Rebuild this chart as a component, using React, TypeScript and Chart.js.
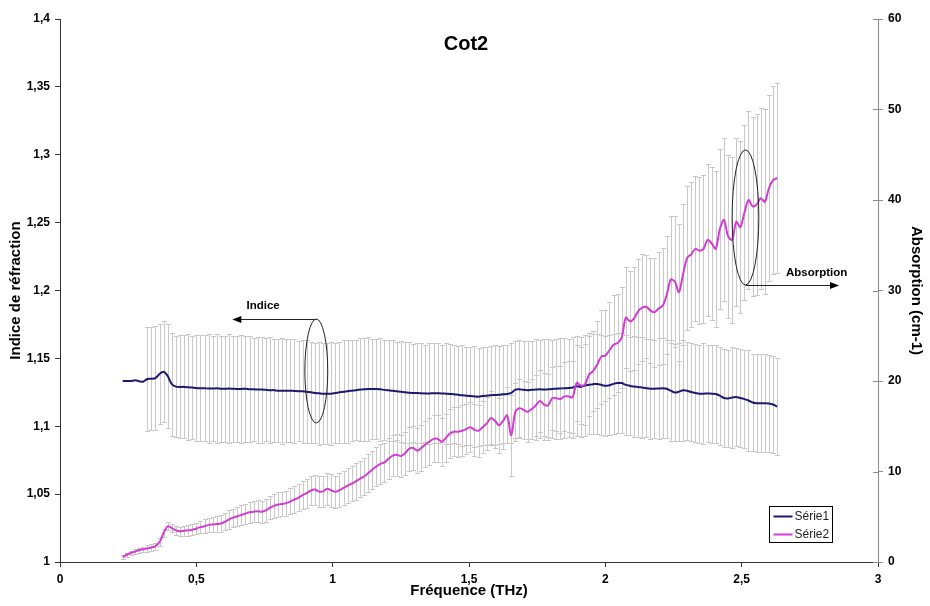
import React, { useEffect, useRef } from 'react';
import { Chart, registerables } from 'chart.js';

Chart.register(...registerables);

// ---------- data ----------
const FREQ_START = 0.23; // THz, first sample
const FREQ_STEP = 0.015; // THz, sampling step

const chartTitle = 'Cot2';
const xAxisTitle = 'Fréquence (THz)';
const yLeftTitle = 'Indice de réfraction';
const yRightTitle = 'Absorption (cm-1)';
const seriesNames = ['Série1', 'Série2'];

const xRange = [0, 3, 0.5];
const yLeftRange = [1, 1.4, 0.05];
const yRightRange = [0, 60, 10];

// Série1 : refractive index (left axis)
const indice = [
  1.1334, 1.1333, 1.1333, 1.1338, 1.1332, 1.1328, 1.1348, 1.1350, 1.1355, 1.1385,
  1.1402, 1.1370, 1.1310, 1.1292, 1.1290, 1.1290, 1.1288, 1.1285, 1.1282, 1.1280,
  1.1280, 1.1278, 1.1278, 1.1280, 1.1276, 1.1276, 1.1278, 1.1276, 1.1275, 1.1275,
  1.1276, 1.1272, 1.1272, 1.1270, 1.1270, 1.1268, 1.1266, 1.1266, 1.1262, 1.1262,
  1.1262, 1.1262, 1.1260, 1.1258, 1.1258, 1.1255, 1.1250, 1.1245, 1.1243, 1.1240,
  1.1240, 1.1240, 1.1245, 1.1250, 1.1255, 1.1258, 1.1262, 1.1266, 1.1270, 1.1272,
  1.1275, 1.1275, 1.1274, 1.1272, 1.1268, 1.1265, 1.1262, 1.1258, 1.1255, 1.1250,
  1.1247, 1.1245, 1.1245, 1.1243, 1.1242, 1.1242, 1.1244, 1.1243, 1.1242, 1.1240,
  1.1238, 1.1236, 1.1232, 1.1228, 1.1225, 1.1222, 1.1220, 1.1218, 1.1222, 1.1225,
  1.1228, 1.1230, 1.1232, 1.1235, 1.1238, 1.1245, 1.1270, 1.1272, 1.1268, 1.1266,
  1.1268, 1.1270, 1.1272, 1.1270, 1.1272, 1.1275, 1.1276, 1.1278, 1.1280, 1.1282,
  1.1285, 1.1295, 1.1290, 1.1300, 1.1305, 1.1310, 1.1312, 1.1305, 1.1298, 1.1302,
  1.1312, 1.1318, 1.1318, 1.1305, 1.1298, 1.1292, 1.1290, 1.1285, 1.1280, 1.1276,
  1.1276, 1.1278, 1.1280, 1.1276, 1.1262, 1.1248, 1.1255, 1.1265, 1.1262, 1.1252,
  1.1245, 1.1240, 1.1240, 1.1242, 1.1240, 1.1238, 1.1225, 1.1208, 1.1205, 1.1212,
  1.1215, 1.1208, 1.1200, 1.1190, 1.1175, 1.1170, 1.1170, 1.1170, 1.1168, 1.1160,
  1.1145,
];

// Série2 : absorption (right axis)
const absorption = [
  0.55, 0.8, 1.0, 1.15, 1.3, 1.4, 1.5, 1.6, 1.75, 2.2,
  3.2, 3.95, 3.75, 3.5, 3.4, 3.45, 3.5, 3.55, 3.7, 3.85,
  3.95, 4.1, 4.15, 4.2, 4.25, 4.45, 4.7, 4.9, 5.05, 5.2,
  5.35, 5.5, 5.55, 5.6, 5.55, 5.7, 6.0, 6.2, 6.35, 6.4,
  6.5, 6.7, 6.9, 7.1, 7.4, 7.6, 7.9, 8.0, 7.8, 7.8,
  8.1, 7.9, 7.75, 7.95, 8.2, 8.45, 8.65, 8.9, 9.2, 9.45,
  9.8, 10.2, 10.55, 10.85, 11.0, 11.4, 11.75, 11.85, 11.7, 12.0,
  12.5, 12.6, 12.3, 12.6, 13.0, 13.3, 13.6, 13.6, 13.3, 13.7,
  14.2, 14.4, 14.4, 14.5, 14.7, 14.9, 14.6, 14.5, 14.9, 15.3,
  15.9, 15.6, 15.1, 15.6, 16.2, 14.0, 16.6, 17.0, 16.8, 16.6,
  16.9, 17.3, 17.8, 17.4, 17.3, 18.1, 18.1, 18.0, 18.3, 18.3,
  18.2, 19.8, 19.5, 19.6, 20.7, 21.1, 21.8, 22.7, 22.8, 23.4,
  24.0, 24.2, 24.8, 27.0, 26.6, 26.9, 27.7, 28.1, 28.2, 27.8,
  27.6, 28.0, 28.3, 29.5, 31.2, 31.0, 29.8, 31.8, 33.6, 34.0,
  34.6, 34.4, 34.6, 35.6, 35.2, 34.6, 36.8, 37.8, 36.0, 35.6,
  37.6, 37.0, 38.6, 40.0, 39.3, 39.5, 40.2, 39.8, 41.3, 42.2,
  42.4,
];

// error bar half-lengths (null = no bar)
const indiceErr = [
  null, null, null, null, null, null, 0.038, 0.038, 0.038, 0.037,
  0.037, 0.038, 0.038, 0.037, 0.038, 0.038, 0.039, 0.038, 0.039, 0.039,
  0.039, 0.040, 0.039, 0.040, 0.039, 0.039, 0.040, 0.039, 0.039, 0.040,
  0.039, 0.039, 0.038, 0.039, 0.039, 0.038, 0.039, 0.038, 0.038, 0.039,
  0.038, 0.038, 0.038, 0.037, 0.038, 0.038, 0.037, 0.037, 0.038, 0.037,
  0.037, 0.038, 0.037, 0.037, 0.038, 0.038, 0.037, 0.037, 0.038, 0.038,
  0.038, 0.037, 0.037, 0.038, 0.037, 0.037, 0.037, 0.036, 0.037, 0.037,
  0.037, 0.036, 0.037, 0.037, 0.036, 0.037, 0.037, 0.037, 0.036, 0.037,
  0.037, 0.036, 0.036, 0.037, 0.036, 0.036, 0.037, 0.036, 0.036, 0.036,
  0.036, 0.037, 0.036, 0.036, 0.036, 0.037, 0.036, 0.036, 0.036, 0.036,
  0.036, 0.037, 0.036, 0.037, 0.037, 0.036, 0.037, 0.037, 0.037, 0.036,
  0.037, 0.037, 0.037, 0.037, 0.036, 0.037, 0.037, 0.037, 0.037, 0.037,
  0.037, 0.037, 0.037, 0.037, 0.036, 0.037, 0.037, 0.037, 0.036, 0.037,
  0.036, 0.037, 0.037, 0.036, 0.037, 0.036, 0.036, 0.037, 0.036, 0.036,
  0.036, 0.036, 0.037, 0.036, 0.036, 0.036, 0.036, 0.036, 0.036, 0.037,
  0.036, 0.036, 0.036, 0.037, 0.036, 0.036, 0.036, 0.036, 0.036, 0.036,
  0.036,
];

const absorptionErr = [
  0.2, 0.2, 0.25, 0.3, 0.3, 0.3, 0.35, 0.4, 0.4, 0.4,
  0.4, 0.45, 0.45, 0.5, 0.5, 0.55, 0.6, 0.6, 0.65, 0.7,
  0.75, 0.8, 0.8, 0.85, 0.9, 0.95, 1.0, 1.0, 1.05, 1.1,
  1.1, 1.15, 1.15, 1.2, 1.2, 1.25, 1.3, 1.3, 1.35, 1.35,
  1.4, 1.45, 1.5, 1.5, 1.55, 1.6, 1.6, 1.65, 1.7, 1.7,
  1.75, 1.8, 1.8, 1.85, 1.9, 1.9, 1.95, 2.0, 2.0, 2.05,
  2.1, 2.1, 2.15, 2.2, 2.2, 2.25, 2.3, 2.3, 2.35, 2.4,
  2.4, 2.45, 2.5, 2.5, 2.55, 2.6, 2.6, 2.6, 2.65, 2.7,
  2.7, 2.7, 2.75, 2.8, 2.8, 2.8, 2.85, 2.9, 2.9, 2.95,
  3.0, 3.0, 3.05, 3.1, 3.1, 4.5, 3.2, 3.2, 3.25, 3.3,
  3.3, 3.35, 3.4, 3.45, 3.5, 3.5, 3.6, 3.7, 3.8, 3.9,
  4.0, 4.2, 4.3, 4.5, 4.6, 4.4, 4.8, 5.2, 5.0, 5.3,
  5.5, 5.4, 5.6, 5.6, 5.5, 5.7, 5.8, 5.9, 5.7, 5.8,
  6.0, 6.2, 6.4, 6.5, 7.0, 7.2, 7.6, 7.8, 8.0, 8.0,
  8.0, 8.1, 8.2, 8.4, 8.5, 8.6, 8.8, 9.0, 9.0, 9.2,
  9.3, 9.5, 9.7, 9.8, 9.9, 10.0, 10.0, 10.2, 10.3, 10.4,
  10.5,
];

const frequencies = indice.map((_, i) => +(FREQ_START + i * FREQ_STEP).toFixed(4));

// ---------- styles ----------
const FONT = "'Liberation Sans', Arial, Helvetica, sans-serif";
const NAVY = '#1a1a70';
const MAGENTA = '#d23cd2';
const ERR_COLOR = '#c8c8c8';
const AXIS_DARK = '#333333';
const AXIS_GREY = '#8a8a8a';

const fmt = (v: number) => String(Math.round(v * 1000) / 1000).replace('.', ',');

// annotation callouts, in data units
const indiceCallout = { cx: 0.94, cy: 1.1407, rx: 0.042, ry: 0.0383, arrowTo: 0.632, text: 'Indice', tx: 0.745, ty: 1.1886 };
const absCallout = { cx: 2.514, cy: 38.07, rx: 0.049, ry: 7.46, arrowTo: 2.857, text: 'Absorption', tx: 2.775, ty: 31.9 };

function drawErrorBars(ctx: CanvasRenderingContext2D, xs: any, ys: any, vals: number[], errs: (number | null)[]) {
  ctx.beginPath();
  for (let i = 0; i < vals.length; i++) {
    const e = errs[i];
    if (e == null) continue;
    const px = Math.round(xs.getPixelForValue(frequencies[i])) + 0.5;
    const top = Math.round(ys.getPixelForValue(vals[i] + e)) + 0.5;
    const bot = Math.round(ys.getPixelForValue(vals[i] - e)) + 0.5;
    ctx.moveTo(px, top);
    ctx.lineTo(px, bot);
    ctx.moveTo(px - 2.5, top);
    ctx.lineTo(px + 2.5, top);
    ctx.moveTo(px - 2.5, bot);
    ctx.lineTo(px + 2.5, bot);
  }
  ctx.stroke();
}

function arrowHead(ctx: CanvasRenderingContext2D, x: number, y: number, dir: number) {
  ctx.beginPath();
  ctx.moveTo(x, y);
  ctx.lineTo(x - dir * 9, y - 3.5);
  ctx.lineTo(x - dir * 9, y + 3.5);
  ctx.closePath();
  ctx.fill();
}

function drawCallout(ctx: CanvasRenderingContext2D, xs: any, ys: any, c: any, arrowFromTop: boolean) {
  const cx = xs.getPixelForValue(c.cx);
  const cy = ys.getPixelForValue(c.cy);
  const rx = Math.abs(xs.getPixelForValue(c.cx + c.rx) - cx);
  const ry = Math.abs(ys.getPixelForValue(c.cy + c.ry) - cy);
  ctx.strokeStyle = '#222';
  ctx.fillStyle = '#000';
  ctx.lineWidth = 1;
  ctx.beginPath();
  ctx.ellipse(cx, cy, rx, ry, 0, 0, Math.PI * 2);
  ctx.stroke();
  const ay = Math.round(arrowFromTop ? cy - ry : cy + ry) + 0.5;
  const ax = xs.getPixelForValue(c.arrowTo);
  const dir = ax < cx ? -1 : 1;
  ctx.beginPath();
  ctx.moveTo(cx, ay);
  ctx.lineTo(ax - dir * 8, ay);
  ctx.stroke();
  arrowHead(ctx, ax, ay, dir);
  ctx.font = `bold 11.5px ${FONT}`;
  ctx.textAlign = 'center';
  ctx.textBaseline = 'middle';
  ctx.fillText(c.text, xs.getPixelForValue(c.tx), ys.getPixelForValue(c.ty));
}

const overlayPlugin = {
  id: 'overlay',
  beforeDatasetsDraw(chart: any) {
    const { ctx, scales } = chart;
    ctx.save();
    ctx.strokeStyle = ERR_COLOR;
    ctx.lineWidth = 1;
    drawErrorBars(ctx, scales.x, scales.y, indice, indiceErr);
    drawErrorBars(ctx, scales.x, scales.y1, absorption, absorptionErr);
    ctx.restore();
  },
  afterDraw(chart: any) {
    const { ctx, chartArea: ca, scales } = chart;
    ctx.save();
    // inward half of the right-axis tick marks
    ctx.strokeStyle = AXIS_GREY;
    ctx.lineWidth = 1;
    ctx.beginPath();
    scales.y1.ticks.forEach((t: any) => {
      const py = Math.round(scales.y1.getPixelForValue(t.value)) + 0.5;
      ctx.moveTo(ca.right - 5, py);
      ctx.lineTo(ca.right, py);
    });
    ctx.stroke();

    // title inside the plot area
    ctx.fillStyle = '#000';
    ctx.font = `bold 20px ${FONT}`;
    ctx.textAlign = 'center';
    ctx.textBaseline = 'middle';
    ctx.fillText(chartTitle, (ca.left + ca.right) / 2 - 3, ca.top + 25);

    // callouts
    drawCallout(ctx, scales.x, scales.y, indiceCallout, true);
    drawCallout(ctx, scales.x, scales.y1, absCallout, false);

    // legend box
    const lx = Math.round(ca.right - 109) + 0.5;
    const ly = Math.round(ca.bottom - 56) + 0.5;
    const lw = 63;
    const lh = 36;
    ctx.fillStyle = '#fff';
    ctx.fillRect(lx, ly, lw, lh);
    ctx.strokeStyle = '#000';
    ctx.lineWidth = 1;
    ctx.strokeRect(lx, ly, lw, lh);
    const colors = [NAVY, MAGENTA];
    seriesNames.forEach((name, k) => {
      const yy = ly + 10 + k * 18;
      ctx.strokeStyle = colors[k];
      ctx.lineWidth = 2;
      ctx.beginPath();
      ctx.moveTo(lx + 4, yy);
      ctx.lineTo(lx + 23, yy);
      ctx.stroke();
      ctx.fillStyle = '#222';
      ctx.font = `12px ${FONT}`;
      ctx.textAlign = 'left';
      ctx.textBaseline = 'middle';
      ctx.fillText(name, lx + 25, yy);
    });
    ctx.restore();
  },
};

export default function App() {
  const ref = useRef<HTMLCanvasElement>(null);

  useEffect(() => {
    document.body.style.margin = '0';
    const canvas = ref.current;
    if (!canvas) return;
    const tickFont = { family: FONT, size: 12, weight: 'bold' as const };
    const titleFont = { family: FONT, size: 15, weight: 'bold' as const };

    const chart = new Chart(canvas, {
      type: 'line',
      data: {
        datasets: [
          {
            label: seriesNames[0],
            data: frequencies.map((x, i) => ({ x, y: indice[i] })),
            yAxisID: 'y',
            borderColor: NAVY,
            backgroundColor: NAVY,
            borderWidth: 2,
            pointRadius: 0,
            tension: 0.3,
            fill: false,
            order: 1,
          },
          {
            label: seriesNames[1],
            data: frequencies.map((x, i) => ({ x, y: absorption[i] })),
            yAxisID: 'y1',
            borderColor: MAGENTA,
            backgroundColor: MAGENTA,
            borderWidth: 2,
            pointRadius: 0,
            tension: 0.3,
            fill: false,
            order: 0,
          },
        ],
      },
      options: {
        animation: false,
        responsive: false,
        devicePixelRatio: 1,
        layout: { padding: { top: 19, left: 0, right: 0, bottom: 0 } },
        plugins: {
          legend: { display: false },
          tooltip: { enabled: false },
          title: { display: false },
        },
        scales: {
          x: {
            type: 'linear',
            min: xRange[0],
            max: xRange[1],
            afterFit: (s: any) => { s.height = 44; },
            ticks: {
              stepSize: xRange[2],
              color: '#000',
              font: tickFont,
              padding: 5,
              maxRotation: 0,
              autoSkip: false,
              callback: (v: any) => fmt(Number(v)),
            },
            grid: { drawOnChartArea: false, drawTicks: true, tickLength: 5, color: AXIS_DARK },
            border: { display: true, color: AXIS_DARK, width: 1 },
            title: { display: true, text: xAxisTitle, color: '#000', font: titleFont, padding: { top: 0, bottom: 6 } },
          },
          y: {
            type: 'linear',
            position: 'left',
            min: yLeftRange[0],
            max: yLeftRange[1],
            afterFit: (s: any) => { s.width = 60; },
            ticks: {
              stepSize: yLeftRange[2],
              color: '#000',
              font: tickFont,
              padding: 5,
              autoSkip: false,
              callback: (v: any) => fmt(Number(v)),
            },
            grid: { drawOnChartArea: false, drawTicks: true, tickLength: 5, color: AXIS_DARK },
            border: { display: true, color: AXIS_DARK, width: 1 },
            title: { display: true, text: yLeftTitle, color: '#000', font: titleFont, padding: { top: 7, bottom: 0 } },
          },
          y1: {
            type: 'linear',
            position: 'right',
            min: yRightRange[0],
            max: yRightRange[1],
            afterFit: (s: any) => { s.width = 52; },
            ticks: {
              stepSize: yRightRange[2],
              color: '#000',
              font: tickFont,
              padding: 5,
              autoSkip: false,
              callback: (v: any) => fmt(Number(v)),
            },
            grid: { drawOnChartArea: false, drawTicks: true, tickLength: 5, color: AXIS_GREY },
            border: { display: true, color: AXIS_GREY, width: 1 },
            title: { display: true, text: yRightTitle, color: '#000', font: titleFont, padding: { top: 5, bottom: 0 } },
          },
        },
      } as any,
      plugins: [overlayPlugin],
    });
    return () => chart.destroy();
  }, []);

  return <canvas ref={ref} width={930} height={606} style={{ display: 'block' }} />;
}
